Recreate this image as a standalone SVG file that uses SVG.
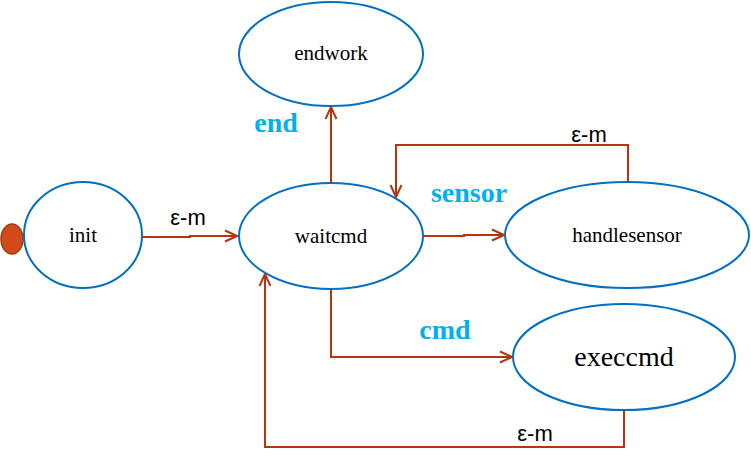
<svg xmlns="http://www.w3.org/2000/svg" width="751" height="466" viewBox="0 0 751 466">
<defs>
<marker id="arr" viewBox="0 0 14 14" refX="13" refY="7" markerWidth="14" markerHeight="14" markerUnits="userSpaceOnUse" orient="auto">
<path d="M1,1.5 L13,7 L1,12.5" fill="none" stroke="#b5360e" stroke-width="2"/>
</marker>
</defs>
<rect width="751" height="466" fill="#fff"/>
<g id="start"><ellipse cx="12" cy="239" rx="11" ry="15" fill="#d24a1c" stroke="#a33a10" stroke-width="1.5"/></g>
<g id="init" fill="#fff" stroke="#0070c0" stroke-width="2"><ellipse cx="83" cy="235" rx="59" ry="53"/><text x="83" y="242" stroke="none" fill="#000" text-anchor="middle" font-size="21" font-family="serif">init</text></g>
<g id="endwork" fill="#fff" stroke="#0070c0" stroke-width="2"><ellipse cx="331" cy="54" rx="92" ry="52"/><text x="331" y="60" stroke="none" fill="#000" text-anchor="middle" font-size="21" font-family="serif">endwork</text></g>
<g id="waitcmd" fill="#fff" stroke="#0070c0" stroke-width="2"><ellipse cx="331" cy="236" rx="92" ry="53"/><text x="331" y="243" stroke="none" fill="#000" text-anchor="middle" font-size="21" font-family="serif">waitcmd</text></g>
<g id="handlesensor" fill="#fff" stroke="#0070c0" stroke-width="2"><ellipse cx="627" cy="235" rx="122" ry="53"/><text x="627" y="242" stroke="none" fill="#000" text-anchor="middle" font-size="21" font-family="serif">handlesensor</text></g>
<g id="execcmd" fill="#fff" stroke="#0070c0" stroke-width="2"><ellipse cx="624" cy="357" rx="111" ry="53"/><text x="624" y="366" stroke="none" fill="#000" text-anchor="middle" font-size="28" font-family="serif">execcmd</text></g>
<g id="connectors" fill="none" stroke="#b5360e" stroke-width="2">
<path d="M142,237 H190 V236 H237" marker-end="url(#arr)"/>
<path d="M331,183 V107" marker-end="url(#arr)"/>
<path d="M423,236 H464 V235 H504" marker-end="url(#arr)"/>
<path d="M628,182 V145 H396 V197" marker-end="url(#arr)"/>
<path d="M331,289 V357 H512" marker-end="url(#arr)"/>
<path d="M624,410 V447 H265 V274" marker-end="url(#arr)"/>
</g>
<g id="labels" stroke="none">
<text x="188" y="225" fill="#000" text-anchor="middle" font-size="22" font-family="Liberation Sans">ε-m</text>
<text x="589" y="142" fill="#000" text-anchor="middle" font-size="22" font-family="Liberation Sans">ε-m</text>
<text x="535" y="441" fill="#000" text-anchor="middle" font-size="22" font-family="Liberation Sans">ε-m</text>
<text x="276" y="132" text-anchor="middle" font-size="28" font-weight="bold" fill="#00b0f0" font-family="serif">end</text>
<text x="469" y="202" text-anchor="middle" font-size="28" font-weight="bold" fill="#00b0f0" font-family="serif">sensor</text>
<text x="445" y="339" text-anchor="middle" font-size="28" font-weight="bold" fill="#00b0f0" font-family="serif">cmd</text>
</g>
</svg>
